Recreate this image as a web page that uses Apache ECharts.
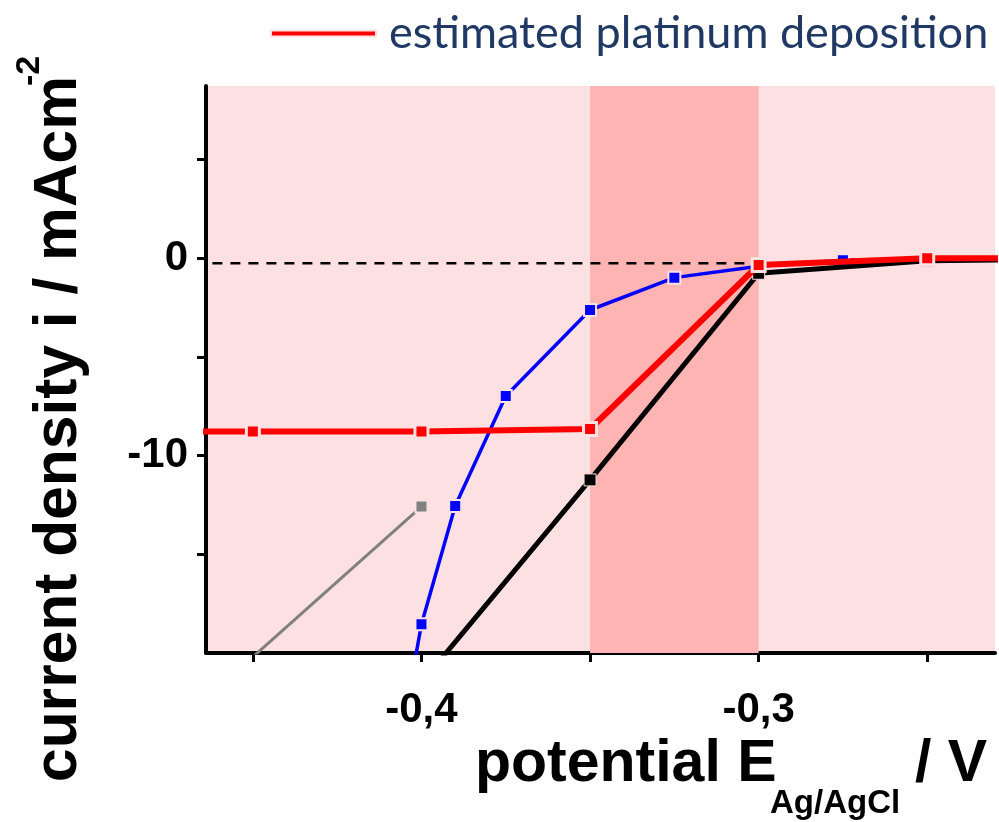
<!DOCTYPE html>
<html>
<head>
<meta charset="utf-8">
<script src="https://cdn.jsdelivr.net/npm/echarts@6/dist/echarts.min.js"></script>
<style>
  html, body { margin: 0; padding: 0; background: #fff; }
  #chart { width: 999px; height: 822px; }
</style>
</head>
<body>
<div id="chart"></div>
<script>
// potential (V) / current density (mA cm-2)
var potentialRed = [-0.5, -0.45, -0.4, -0.35, -0.3, -0.25, -0.2];
var currentRed = [-8.78, -8.78, -8.78, -8.65, -0.34, 0.0, 0.0];

var potentialBlack = [-0.4, -0.35, -0.3, -0.25, -0.2];
var currentBlack = [-21.5, -11.23, -0.76, -0.12, -0.05];

var potentialBlue = [-0.41, -0.4, -0.39, -0.375, -0.35, -0.325, -0.3, -0.275, -0.25];
var currentBlue = [-28, -18.54, -12.55, -6.98, -2.62, -0.98, -0.4, -0.1, -0.05];

var potentialGray = [-0.45, -0.4];
var currentGray = [-20.2, -12.58];

// dashed reference line near zero, up to the shaded band end
var dashPotential = [-0.462, -0.3];
var dashCurrent = [-0.25, -0.25];

// shaded potential window
var bandRange = [-0.35, -0.3];

var xTicks = [-0.45, -0.4, -0.35, -0.3, -0.25];
var xLabels = [-0.4, -0.3];
var yTicks = [5, 0, -5, -10, -15];
var yLabels = [0, -10];

var legendName = 'estimated platinum deposition';

function pairs(xs, ys) {
	var out = [];
	for (var i = 0; i < xs.length; i++) {
		out.push([xs[i], ys[i]]);
	}
	return out;
}

var FONT = '"Liberation Sans", Arial, sans-serif';
var BG = '#FDE0E1';

var chart = echarts.init(document.getElementById('chart'));

var option = {
	animation: false,
	backgroundColor: '#fff',
	grid: {
		left: 206, right: 4, top: 86, bottom: 169,
		show: true, backgroundColor: BG, borderWidth: 0
	},
	legend: {
		data: [legendName],
		left: 265, top: 6,
		icon: 'rect',
		itemWidth: 105, itemHeight: 6,
		textStyle: {
			fontFamily: 'Lato, "Open Sans", sans-serif',
			fontSize: 45, color: '#1F3864',
			padding: [0, 0, 0, 8]
		}
	},
	xAxis: {
		type: 'value',
		min: -0.4639, max: -0.2299,
		splitLine: { show: false },
		axisLine: { onZero: false, lineStyle: { color: '#000', width: 4 } },
		axisTick: { customValues: xTicks, length: 9, lineStyle: { color: '#000', width: 3 } },
		axisLabel: {
			customValues: xLabels,
			margin: 36,
			fontFamily: FONT, fontWeight: 'bold', fontSize: 42, color: '#000',
			formatter: function (v) { return v.toFixed(1).replace('.', ','); }
		}
	},
	yAxis: {
		type: 'value',
		min: -20, max: 8.73,
		splitLine: { show: false },
		axisLine: { onZero: false, lineStyle: { color: '#000', width: 4 } },
		axisTick: { customValues: yTicks, length: 9, lineStyle: { color: '#000', width: 3 } },
		axisLabel: {
			customValues: yLabels,
			margin: 18,
			fontFamily: FONT, fontWeight: 'bold', fontSize: 42, color: '#000'
		}
	},
	graphic: [
		{
			type: 'text', x: 90, y: 782, rotation: Math.PI / 2,
			style: {
				text: 'current density i / mAcm',
				font: 'bold 60.5px ' + FONT, fill: '#000',
				textAlign: 'left', textVerticalAlign: 'bottom'
			}
		},
		{
			type: 'text', x: 47, y: 86, rotation: Math.PI / 2,
			style: {
				text: '-2',
				font: 'bold 34px ' + FONT, fill: '#000',
				textAlign: 'left', textVerticalAlign: 'bottom'
			}
		},
		{
			type: 'text', x: 475, y: 735,
			style: {
				text: 'potential E',
				font: 'bold 59px ' + FONT, fill: '#000',
				textAlign: 'left', textVerticalAlign: 'top'
			}
		},
		{
			type: 'text', x: 770, y: 787,
			style: {
				text: 'Ag/AgCl',
				font: 'bold 33px ' + FONT, fill: '#000',
				textAlign: 'left', textVerticalAlign: 'top'
			}
		},
		{
			type: 'text', x: 915, y: 735,
			style: {
				text: '/ V',
				font: 'bold 59px ' + FONT, fill: '#000',
				textAlign: 'left', textVerticalAlign: 'top'
			}
		}
	],
	series: [
		{
			name: 'gray',
			type: 'line', z: 1,
			data: pairs(potentialGray, currentGray),
			symbol: 'rect', symbolSize: 12,
			lineStyle: { color: '#808080', width: 3 },
			itemStyle: { color: '#808080', borderColor: BG, borderWidth: 2 },
			markArea: {
				silent: true,
				itemStyle: { color: '#FFB4B4', opacity: 1 },
				data: [[{ xAxis: bandRange[0] }, { xAxis: bandRange[1] }]]
			}
		},
		{
			name: 'zero',
			type: 'line', z: 2,
			data: pairs(dashPotential, dashCurrent),
			symbol: 'none',
			lineStyle: { color: '#000', width: 2.5, type: [10, 8] }
		},
		{
			name: 'blue',
			type: 'line', z: 3,
			data: pairs(potentialBlue, currentBlue),
			symbol: 'rect', symbolSize: 12,
			lineStyle: { color: '#0000FF', width: 3.5 },
			itemStyle: { color: '#0000FF', borderColor: BG, borderWidth: 2 }
		},
		{
			name: 'black',
			type: 'line', z: 4,
			data: pairs(potentialBlack, currentBlack),
			symbol: 'rect', symbolSize: 12,
			lineStyle: { color: '#000', width: 5 },
			itemStyle: { color: '#000', borderColor: BG, borderWidth: 1 }
		},
		{
			name: legendName,
			type: 'line', z: 5,
			data: pairs(potentialRed, currentRed),
			symbol: 'rect', symbolSize: 13,
			lineStyle: { color: '#FF0000', width: 6 },
			itemStyle: { color: '#FF0000', borderColor: BG, borderWidth: 3 }
		}
	]
};

chart.setOption(option);
</script>
</body>
</html>
